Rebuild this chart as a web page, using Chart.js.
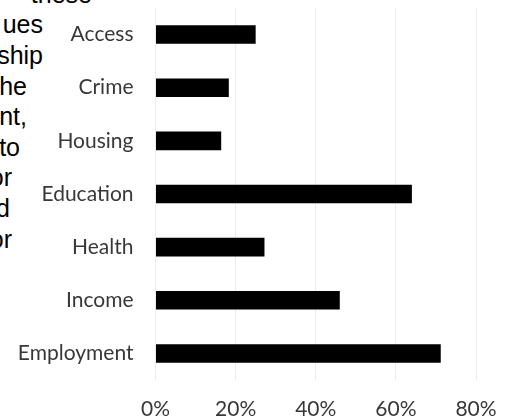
<!DOCTYPE html>
<html>
<head>
<meta charset="utf-8">
<script src="https://cdn.jsdelivr.net/npm/chart.js@4"></script>
<style>
    body { margin: 0; background: #fff; }
    #wrap { position: relative; width: 515px; height: 418px; overflow: hidden; }
    #chart { position: absolute; left: 0; top: 0; }
    .note { position: absolute; font-family: "Liberation Sans", Arial, sans-serif; font-size: 25px; line-height: 25px; color: #000; white-space: nowrap; }
</style>
</head>
<body>
<div id="wrap">
    <div id="notes"></div>
    <canvas id="chart" width="515" height="418"></canvas>
</div>
<script>
// chart data
const categories = ['Access', 'Crime', 'Housing', 'Education', 'Health', 'Income', 'Employment'];
const shares = [25, 18.3, 16.4, 64, 27.2, 46, 71.2];
const tickValues = [0, 20, 40, 60, 80];

// the cut-off paragraph text behind the chart
const noteText = ['these', 'ues', 'ship', 'he', 'nt,', 'to', 'or', 'd', 'or'];
const noteRight = [92, 43, 43, 27, 27, 20, 12, 10, 12];

const notes = document.getElementById('notes');
noteText.forEach((txt, i) => {
    const div = document.createElement('div');
    div.className = 'note';
    div.textContent = txt;
    const baseline = 3 + i * 30.6;
    div.style.top = (baseline - 21.2) + 'px';
    div.style.right = (515 - noteRight[i]) + 'px';
    notes.appendChild(div);
});

const labelFont = { family: 'Lato, "Noto Sans", sans-serif', size: 21 };

new Chart(document.getElementById('chart'), {
    type: 'bar',
    data: {
        labels: categories,
        datasets: [{
            data: shares,
            backgroundColor: '#000',
            borderWidth: 0,
            barPercentage: 0.35,
            categoryPercentage: 1
        }]
    },
    options: {
        indexAxis: 'y',
        responsive: false,
        animation: false,
        layout: { autoPadding: false, padding: { top: 8, right: 39, left: 0, bottom: 0 } },
        plugins: { legend: { display: false }, tooltip: { enabled: false } },
        scales: {
            x: {
                min: 0,
                max: 80,
                afterBuildTicks: (scale) => {
                    scale.ticks = tickValues.map(v => ({ value: v }));
                },
                afterFit: (scale) => { scale.height = 38; },
                grid: { color: '#ebebeb', lineWidth: 1, drawTicks: false },
                border: { display: false },
                ticks: {
                    padding: 17,
                    color: '#383838',
                    font: labelFont,
                    callback: (v) => v + '%'
                }
            },
            y: {
                grid: { display: false, drawTicks: false },
                border: { display: false },
                afterFit: (scale) => {
                    // keep the label padding from pushing the plot down
                    scale.width = 155.5;
                    scale.paddingTop = 0;
                    scale.paddingBottom = 0;
                },
                ticks: {
                    padding: 22,
                    color: '#383838',
                    font: labelFont
                }
            }
        }
    }
});
</script>
</body>
</html>
